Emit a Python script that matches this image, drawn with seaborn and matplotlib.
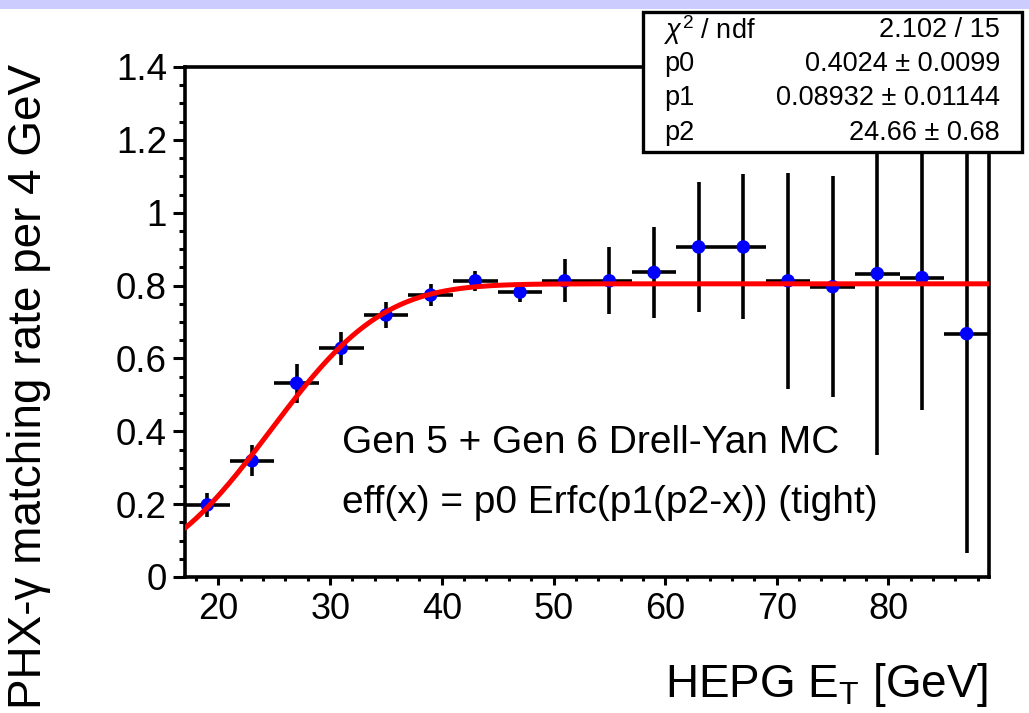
import math
import numpy as np
import pandas as pd
import matplotlib
matplotlib.use("Agg")
import matplotlib.pyplot as plt
from matplotlib.patches import Rectangle
from matplotlib.ticker import MultipleLocator
import seaborn as sns

# ---- data ----
bin_centers = [19, 23, 27, 31, 35, 39, 43, 47, 51, 55, 59, 63, 67, 71, 75, 79, 83, 87]
bin_halfwidth = [2] * 18
rate = [0.198, 0.319, 0.532, 0.628, 0.719, 0.774, 0.813, 0.782, 0.813, 0.813,
        0.836, 0.906, 0.906, 0.813, 0.797, 0.833, 0.822, 0.668]
rate_err = [0.032, 0.042, 0.053, 0.045, 0.036, 0.030, 0.027, 0.026, 0.059, 0.092,
            0.126, 0.178, 0.199, 0.297, 0.303, 0.498, 0.363, 0.602]
fit_p0, fit_p1, fit_p2 = 0.4024, 0.08932, 24.66
x_range = (17, 89)
y_range = (0, 1.4)
xticks = [20, 30, 40, 50, 60, 70, 80]
yticks = [0, 0.2, 0.4, 0.6, 0.8, 1.0, 1.2, 1.4]
ytick_labels = ["0", "0.2", "0.4", "0.6", "0.8", "1", "1.2", "1.4"]
stat_names = [r"$\chi^{2}$ / ndf", "p0", "p1", "p2"]
stat_values = ["2.102 / 15", "0.4024 \u00b1 0.0099", "0.08932 \u00b1 0.01144", "24.66 \u00b1 0.68"]

df = pd.DataFrame({"x": bin_centers, "y": rate, "xe": bin_halfwidth, "ye": rate_err})
xf = np.linspace(x_range[0], x_range[1], 400)
fit = pd.DataFrame({"x": xf,
                    "y": [fit_p0 * math.erfc(fit_p1 * (fit_p2 - v)) for v in xf]})

sns.set_theme(style="ticks")
plt.rcParams["font.family"] = ["Liberation Sans", "DejaVu Sans"]
plt.rcParams["mathtext.fontset"] = "custom"
plt.rcParams["mathtext.rm"] = "Liberation Sans"
plt.rcParams["mathtext.it"] = "Liberation Sans:italic"
plt.rcParams["text.color"] = "black"
plt.rcParams["xtick.labelcolor"] = "black"
plt.rcParams["ytick.labelcolor"] = "black"

W, H = 1029, 713
fig = plt.figure(figsize=(W / 100, H / 100), dpi=100)
fig.patch.set_facecolor("white")
ax = fig.add_axes([185 / W, 1 - 577 / H, (989 - 185) / W, (577 - 67) / H])

# top lavender band
fig.add_artist(Rectangle((0, 1 - 9 / H), 1, 9 / H, transform=fig.transFigure,
                         facecolor="#ccccff", edgecolor="none", zorder=0))

ax.errorbar(df["x"], df["y"], xerr=df["xe"], yerr=df["ye"], fmt="none",
            ecolor="black", elinewidth=2.6, capsize=0, zorder=2)
sns.scatterplot(data=df, x="x", y="y", ax=ax, color="#0000ff", s=95,
                edgecolor="none", zorder=3, legend=False)
sns.lineplot(data=fit, x="x", y="y", ax=ax, color="#ff0000", linewidth=3.6,
             zorder=4, legend=False)

ax.set_xlim(*x_range)
ax.set_ylim(*y_range)
ax.set_xticks(xticks)
ax.set_xticklabels([str(t) for t in xticks])
ax.set_yticks(yticks)
ax.set_yticklabels(ytick_labels)
ax.xaxis.set_minor_locator(MultipleLocator(2))
ax.yaxis.set_minor_locator(MultipleLocator(0.05))
ax.set_xlabel("")
ax.set_ylabel("")
for s in ax.spines.values():
    s.set_visible(True)
    s.set_linewidth(2.6)
    s.set_color("black")
ax.tick_params(axis="both", which="both", direction="out", color="black", width=2.2,
               labelcolor="black")
ax.tick_params(axis="y", which="major", length=9, labelsize=26.5, pad=4)
ax.tick_params(axis="y", which="minor", length=4)
ax.tick_params(axis="x", which="major", length=6, labelsize=26, pad=5)
ax.tick_params(axis="x", which="minor", length=3)
ax.tick_params(axis="x", which="both", top=False)
ax.tick_params(axis="y", which="both", right=False)

# annotation texts
fig.text(342 / W, 1 - 453 / H, "Gen 5 + Gen 6 Drell-Yan MC", fontsize=28,
         ha="left", va="baseline")
fig.text(342 / W, 1 - 513 / H, "eff(x) = p0 Erfc(p1(p2-x)) (tight)", fontsize=28,
         ha="left", va="baseline")

# axis titles
fig.text(988 / W, 1 - 697 / H, r"HEPG E$_\mathrm{T}$ [GeV]", fontsize=33,
         ha="right", va="baseline")
fig.text(29 / W, 1 - 64 / H, "PHX-\u03b3 matching rate per 4 GeV", fontsize=33,
         rotation=90, ha="center", va="top")

# stats box
bx0, by0, bx1, by1 = 643, 12, 1022, 152
fig.add_artist(Rectangle((bx0 / W, 1 - by1 / H), (bx1 - bx0) / W, (by1 - by0) / H,
                         transform=fig.transFigure, facecolor="white",
                         edgecolor="black", linewidth=2.4, zorder=5))
row_y = [30, 64, 98, 133]
for name, val, ry in zip(stat_names, stat_values, row_y):
    fig.text(664 / W, 1 - ry / H, name, fontsize=19.5, ha="left", va="center", zorder=6)
    fig.text(1000 / W, 1 - ry / H, val, fontsize=19.5, ha="right", va="center", zorder=6)

fig.savefig("out.png", dpi=100)
